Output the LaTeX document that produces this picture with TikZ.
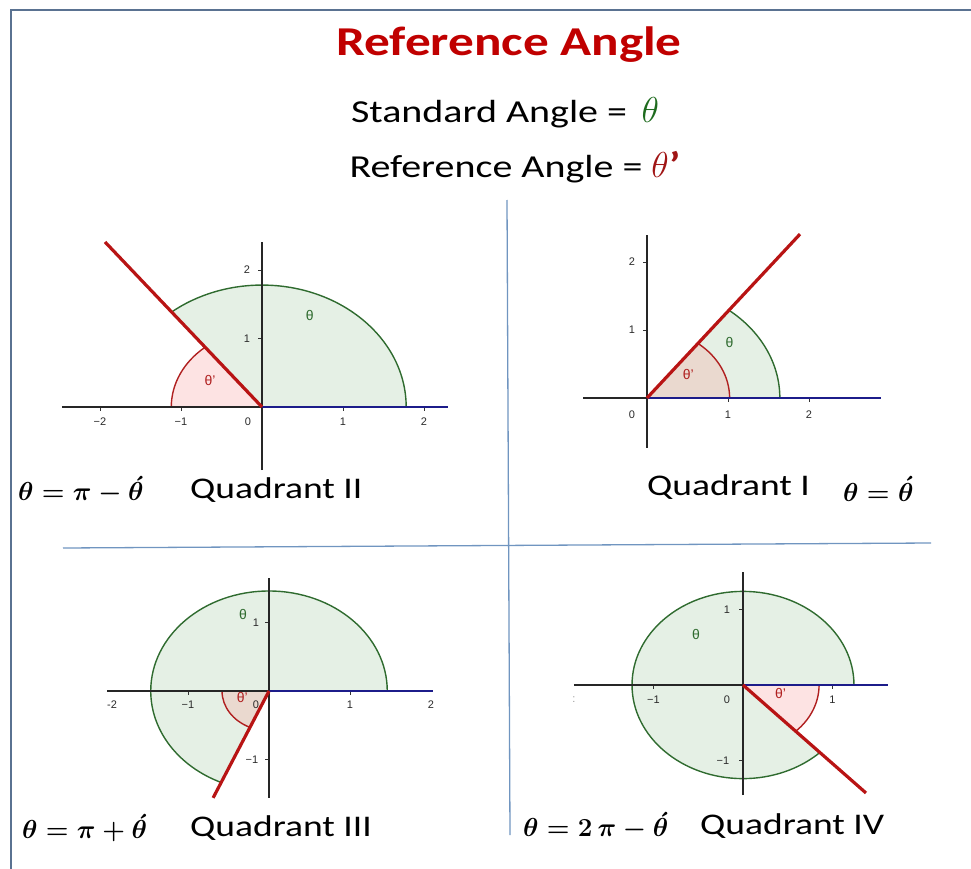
\documentclass[tikz,border=0pt]{standalone}
\usepackage{fix-cm}
\usepackage{amsmath}
\usepackage{fontspec}
\setmainfont{Carlito}[FakeStretch=1.25]
\newfontfamily\tickfont{Liberation Sans}
\definecolor{titlered}{HTML}{C00000}
\definecolor{thetagreen}{HTML}{1E6B1E}
\definecolor{thetared}{HTML}{A01515}
\definecolor{frameblue}{HTML}{5A7291}
\definecolor{divblue}{HTML}{7095C0}
\definecolor{gfillc}{HTML}{E5F0E5}
\definecolor{pfillc}{HTML}{FDE3E3}
\definecolor{bfillc}{HTML}{EAD9CF}
\definecolor{garcc}{HTML}{2F6B2F}
\definecolor{rarcc}{HTML}{B02020}
\definecolor{termred}{HTML}{B81414}
\definecolor{initblue}{HTML}{1C1C8A}
\definecolor{ticktext}{HTML}{2A2A2A}
\tikzset{
  axisline/.style={draw=black!85, line width=1.6pt},
  tickmark/.style={draw=black!80, line width=1pt},
  initline/.style={draw=initblue, line width=2.6pt},
  termline/.style={draw=termred, line width=3.2pt},
  garc/.style={draw=garcc, line width=1.4pt},
  rarc/.style={draw=rarcc, line width=1.4pt},
  ticklab/.style={font=\tickfont\fontsize{11}{11}\selectfont, text=ticktext, inner sep=0pt},
  glab/.style={font=\tickfont\fontsize{14}{14}\selectfont, text=garcc, inner sep=0pt},
  rlab/.style={font=\tickfont\fontsize{14}{14}\selectfont, text=rarcc, inner sep=0pt},
  capt/.style={font=\fontsize{30}{32}\selectfont, anchor=west, inner sep=0pt},
  mcapt/.style={font=\fontsize{26}{28}\selectfont\boldmath, anchor=west, inner sep=0pt},
  divider/.style={draw=divblue, line width=1.3pt},
  framel/.style={draw=frameblue, line width=2.2pt}
}
\begin{document}
\begin{tikzpicture}[x=1pt,y=-1pt]
\useasboundingbox (0,0) rectangle (971,869);
% frame
\draw[framel] (971,10) -- (11,10) -- (11,869);
% titles
\node[font=\bfseries\fontsize{41}{44}\selectfont, text=titlered, inner sep=0pt] (title) at (509,45) {Reference Angle};
\node[font=\fontsize{32}{34}\selectfont, inner sep=0pt] (std) at (505,113) {Standard Angle = \,{\color{thetagreen}\fontsize{36}{36}\selectfont$\theta$}};
\node[font=\fontsize{32}{34}\selectfont, inner sep=0pt] (ref) at (515,167) {Reference Angle = {\color{thetared}\fontsize{36}{36}\selectfont$\theta$\textbf{'}}};
% dividers
\draw[divider] (507,200) -- (510,835);
\draw[divider] (63,548) -- (931,543);

% ---------- Quadrant II ----------
\begin{scope}[shift={(262,407)}, x=81pt, y=68.5pt]
 \fill[gfillc] (0,0) -- (1.78,0) arc[start angle=0, end angle=128.8, radius=1.78] -- cycle;
 \fill[pfillc] (0,0) -- (-1.12,0) arc[start angle=180, end angle=128.8, radius=1.12] -- cycle;
 \draw[garc] (1.78,0) arc[start angle=0, end angle=128.8, radius=1.78];
 \draw[rarc] (-1.12,0) arc[start angle=180, end angle=128.8, radius=1.12];
 \foreach \t in {-2,-1,1,2} \draw[tickmark] (\t,0) -- ++(0pt,-4pt);
 \foreach \t in {1,2} \draw[tickmark] (0,\t) -- ++(-4pt,0pt);
 \draw[axisline] (-2.47,0) -- (0,0);
 \draw[axisline] (0,-0.92) -- (0,2.41);
 \draw[initline] (0,0) -- (2.30,0);
 \draw[termline] (0,0) -- (-1.938,2.409);
 \node[ticklab, yshift=-15pt] (q2xa) at (-2,0) {−2};
 \node[ticklab, yshift=-15pt] (q2xb) at (-1,0) {−1};
 \node[ticklab, yshift=-15pt, xshift=-14pt] (q2xo) at (0,0) {0};
 \node[ticklab, yshift=-15pt] (q2xc) at (1,0) {1};
 \node[ticklab, yshift=-15pt] (q2xd) at (2,0) {2};
 \node[ticklab, xshift=-15pt] (q2ya) at (0,1) {1};
 \node[ticklab, xshift=-15pt] (q2yb) at (0,2) {2};
 \node[glab] (q2th) at (0.59,1.34) {θ};
 \node[rlab] (q2rth) at (-0.64,0.39) {θ’};
\end{scope}
\node[mcapt] (q2m) at (18,490) {$\theta = \pi - \acute{\theta}$};
\node[capt] (q2c) at (190,490) {Quadrant II};

% ---------- Quadrant I ----------
\begin{scope}[shift={(647,398)}, x=81pt, y=68pt]
 \fill[gfillc] (0,0) -- (1.64,0) arc[start angle=0, end angle=51.9, radius=1.64] -- cycle;
 \fill[bfillc] (0,0) -- (1.02,0) arc[start angle=0, end angle=51.9, radius=1.02] -- cycle;
 \draw[garc] (1.64,0) arc[start angle=0, end angle=51.9, radius=1.64];
 \draw[rarc] (1.02,0) arc[start angle=0, end angle=51.9, radius=1.02];
 \foreach \t in {1,2} \draw[tickmark] (\t,0) -- ++(0pt,-4pt);
 \foreach \t in {1,2} \draw[tickmark] (0,\t) -- ++(-4pt,0pt);
 \draw[axisline] (-0.79,0) -- (0,0);
 \draw[axisline] (0,-0.735) -- (0,2.40);
 \draw[initline] (0,0) -- (2.89,0);
 \draw[termline] (0,0) -- (1.889,2.41);
 \node[ticklab, yshift=-17pt, xshift=-15pt] (q1xo) at (0,0) {0};
 \node[ticklab, yshift=-17pt] (q1xa) at (1,0) {1};
 \node[ticklab, yshift=-17pt] (q1xb) at (2,0) {2};
 \node[ticklab, xshift=-15pt] (q1ya) at (0,1) {1};
 \node[ticklab, xshift=-15pt] (q1yb) at (0,2) {2};
 \node[glab] (q1th) at (1.02,0.81) {θ};
 \node[rlab] (q1rth) at (0.51,0.35) {θ’};
\end{scope}
\node[capt] (q1c) at (647,487) {Quadrant I};
\node[mcapt] (q1m) at (843,489) {$\theta = \acute{\theta}$};

% ---------- Quadrant III ----------
\begin{scope}[shift={(269,691)}, x=81pt, y=68.5pt]
 \fill[gfillc] (0,0) -- (1.46,0) arc[start angle=0, end angle=246.1, radius=1.46] -- cycle;
 \fill[bfillc] (0,0) -- (-0.58,0) arc[start angle=180, end angle=246.1, radius=0.58] -- cycle;
 \draw[garc] (1.46,0) arc[start angle=0, end angle=246.1, radius=1.46];
 \draw[rarc] (-0.58,0) arc[start angle=180, end angle=246.1, radius=0.58];
 \foreach \t in {-1,1} \draw[tickmark] (\t,0) -- ++(0pt,-4pt);
 \foreach \t in {-1,1} \draw[tickmark] (0,\t) -- ++(-4pt,0pt);
 \draw[axisline] (-2.0,0) -- (0,0);
 \draw[axisline] (0,-1.56) -- (0,1.65);
 \draw[initline] (0,0) -- (2.02,0);
 \draw[termline] (0,0) -- (-0.69,-1.56);
 \node[ticklab, yshift=-14pt, xshift=5pt] (q3xa) at (-2,0) {-2};
 \node[ticklab, yshift=-14pt] (q3xb) at (-1,0) {−1};
 \node[ticklab, yshift=-14pt, xshift=-13pt] (q3xo) at (0,0) {0};
 \node[ticklab, yshift=-14pt] (q3xc) at (1,0) {1};
 \node[ticklab, yshift=-14pt] (q3xd) at (2,0) {2};
 \node[ticklab, xshift=-13pt] (q3ya) at (0,1) {1};
 \node[ticklab, xshift=-17pt] (q3yb) at (0,-1) {−1};
 \node[glab] (q3th) at (-0.32,1.12) {θ};
 \node[rlab] (q3rth) at (-0.33,-0.09) {θ’};
\end{scope}
\node[mcapt] (q3m) at (22,828) {$\theta = \pi + \acute{\theta}$};
\node[capt] (q3c) at (190,828) {Quadrant III};

% ---------- Quadrant IV ----------
\begin{scope}[shift={(743,685)}, x=89.5pt, y=75.5pt]
 \fill[gfillc] (0,0) -- (1.24,0) arc[start angle=0, end angle=313.85, radius=1.24] -- cycle;
 \fill[pfillc] (0,0) -- (0.85,0) arc[start angle=0, end angle=-46.15, radius=0.85] -- cycle;
 \draw[garc] (1.24,0) arc[start angle=0, end angle=313.85, radius=1.24];
 \draw[rarc] (0.85,0) arc[start angle=0, end angle=-46.15, radius=0.85];
 \foreach \t in {-1,1} \draw[tickmark] (\t,0) -- ++(0pt,-4pt);
 \foreach \t in {-1,1} \draw[tickmark] (0,\t) -- ++(-4pt,0pt);
 \draw[axisline] (-1.89,0) -- (0,0);
 \draw[axisline] (0,-1.46) -- (0,1.50);
 \draw[initline] (0,0) -- (1.62,0);
 \draw[termline] (0,0) -- (1.374,-1.43);
 \node[ticklab, yshift=-15pt, text=black!40] (q4xz) at (-1.89,0) {:};
 \node[ticklab, yshift=-15pt] (q4xa) at (-1,0) {−1};
 \node[ticklab, yshift=-15pt, xshift=-16pt] (q4xo) at (0,0) {0};
 \node[ticklab, yshift=-15pt] (q4xb) at (1,0) {1};
 \node[ticklab, xshift=-16pt] (q4ya) at (0,1) {1};
 \node[ticklab, xshift=-20pt] (q4yb) at (0,-1) {−1};
 \node[glab] (q4th) at (-0.525,0.675) {θ};
 \node[rlab] (q4rth) at (0.42,-0.11) {θ’};
\end{scope}
\node[mcapt] (q4m) at (523,826) {$\theta = 2\,\pi - \acute{\theta}$};
\node[capt] (q4c) at (700,826) {Quadrant IV};
\end{tikzpicture}
\end{document}
